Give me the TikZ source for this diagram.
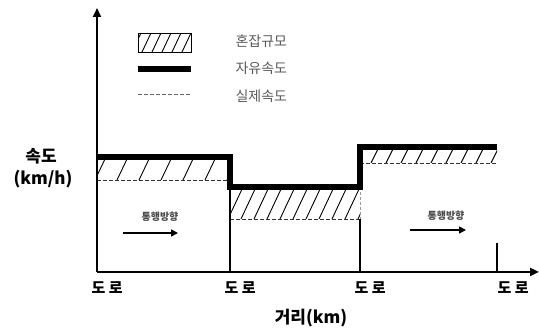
\documentclass[tikz,border=0pt]{standalone}
\usepackage{fontspec}
\setmainfont{Noto Sans CJK KR}
\usetikzlibrary{arrows.meta}
\begin{document}
\begin{tikzpicture}[x=1pt,y=-1pt,
  axis/.style={line width=2.4pt},
  free/.style={line width=5.5pt},
  actual/.style={line width=0.9pt, black!80, dash pattern=on 4pt off 2pt},
  hatchline/.style={line width=0.9pt},
  thin/.style={line width=1.2pt},
  bigtxt/.style={font=\fontsize{17}{19}\selectfont\bfseries},
  roadtxt/.style={font=\fontsize{15}{17}\selectfont\bfseries, anchor=west},
  legtxt/.style={font=\fontsize{14}{16}\selectfont, text=black!65, anchor=west},
  dirtxt/.style={font=\fontsize{10}{12}\selectfont\bfseries, text=black!70},
  dirarrow/.style={line width=1.6pt, -{Triangle[length=7pt,width=7pt]}}
]
\useasboundingbox (0,0) rectangle (539,328);
% hatching
\begin{scope}
  \clip (97,157) rectangle (230,180);
  \foreach \x in {95,117,...,250} \draw[hatchline] (\x,180) -- (\x+11,157);
\end{scope}
\begin{scope}
  \clip (230,187) rectangle (360,219);
  \foreach \x in {228,241,...,380} \draw[hatchline] (\x,219) -- (\x+15,187);
\end{scope}
\begin{scope}
  \clip (360,147) rectangle (497,163);
  \foreach \x in {356,371,...,510} \draw[hatchline] (\x,163) -- (\x+8,147);
\end{scope}
% actual speed (dashed)
\draw[actual] (97,180) -- (230,180);
\draw[actual] (230,219) -- (360,219);
\draw[actual] (360,163) -- (497,163);
% thin verticals
\draw[thin] (230,180) -- (230,272);
\draw[thin] (360,219) -- (360,272);
\draw[line width=0.6pt, black!40, dash pattern=on 3pt off 2pt] (360,187) -- (360,219);
\draw[thin] (497,243) -- (497,272);
% free speed
\draw[free, line join=miter] (97,157) -- (230,157) -- (230,187) -- (360,187) -- (360,147) -- (497,147);
% axes
\draw[axis, -{Triangle[length=9pt,width=8pt]}] (97,272) -- (97,8);
\draw[axis, -{Triangle[length=9pt,width=8pt]}] (97,272) -- (539,272);
% legend
\begin{scope}
  \clip (138,33) rectangle (191,52);
  \foreach \x in {132,142,...,200} \draw[hatchline] (\x,52) -- (\x+9,33);
\end{scope}
\draw[line width=0.9pt] (138,33) rectangle (191,52);
\draw[free] (138,69) -- (191,69);
\draw[line width=0.6pt, black!60, dash pattern=on 4pt off 2pt] (138,94) -- (191,94);
\node[legtxt] (l1) at (232,41) {혼잡규모};
\node[legtxt] (l2) at (232,68) {자유속도};
\node[legtxt] (l3) at (232,96) {실제속도};
% axis labels
\node[bigtxt] (ylab1) at (41,156) {속도};
\node[bigtxt] (ylab2) at (43,179) {(km/h)};
\node[bigtxt] (xlab) at (311,318) {거리(km)};
\node[roadtxt] (r1) at (88,288) {도 로};
\node[roadtxt] (r2) at (221,288) {도 로};
\node[roadtxt] (r3) at (351,288) {도 로};
\node[roadtxt] (r4) at (494,288) {도 로};
% direction
\node[dirtxt] (d1) at (160,217) {통행방향};
\coordinate (a1s) at (123,233);
\coordinate (a1e) at (178,233);
\draw[dirarrow] (a1s) -- (a1e);
\node[dirtxt] (d2) at (446,216) {통행방향};
\coordinate (a2s) at (410,230);
\coordinate (a2e) at (466,230);
\draw[dirarrow] (a2s) -- (a2e);
\end{tikzpicture}
\end{document}
